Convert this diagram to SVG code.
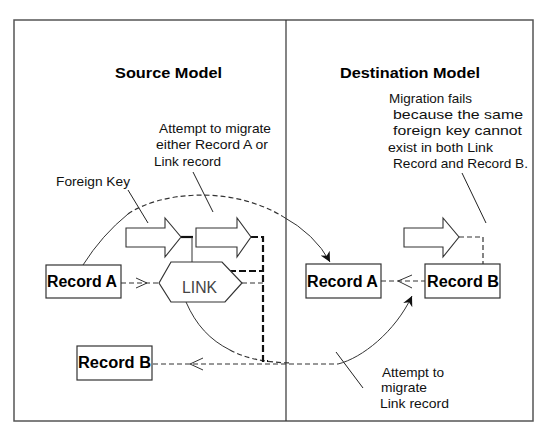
<svg xmlns="http://www.w3.org/2000/svg" width="549" height="439" viewBox="0 0 549 439">
<defs>
<style>
.bg{fill:#fff}
.frame{fill:none;stroke:#555;stroke-width:1.5}
.div{fill:none;stroke:#333;stroke-width:1.2}
.box{fill:#fff;stroke:#333;stroke-width:1.2}
.rec{font-family:"Liberation Sans",Arial,sans-serif;font-weight:bold;font-size:16px;fill:#000}
.title{font-family:"Liberation Sans",Arial,sans-serif;font-weight:bold;font-size:15.5px;fill:#000}
.lbl{font-family:"Liberation Sans",Arial,sans-serif;font-size:13px;fill:#111}
.link{font-family:"Liberation Sans",Arial,sans-serif;font-size:17px;fill:#444}
.fk{fill:#fff;stroke:#333;stroke-width:1.1}
.dash{fill:none;stroke:#333;stroke-width:1.2;stroke-dasharray:5 3}
.thick{fill:none;stroke:#111;stroke-width:2.2;stroke-dasharray:7 3}
.solid{fill:none;stroke:#333;stroke-width:1}
.leader{fill:none;stroke:#222;stroke-width:1}
.open{fill:none;stroke:#333;stroke-width:1}
</style>
<marker id="ah" markerUnits="userSpaceOnUse" markerWidth="10" markerHeight="10" refX="10" refY="5" orient="auto">
<path d="M0,0 L10,5 L0,10 L3,5 z" fill="#111"/>
</marker>
</defs>
<rect class="bg" x="0" y="0" width="549" height="439"/>
<rect class="frame" x="14" y="20" width="519" height="401"/>
<line class="div" x1="286" y1="20" x2="286" y2="421"/>

<g id="titles">
<text class="title" x="115" y="78" textLength="107" lengthAdjust="spacingAndGlyphs">Source Model</text>
<text class="title" x="340" y="78" textLength="140" lengthAdjust="spacingAndGlyphs">Destination Model</text>
</g>

<g id="labels">
<text class="lbl" x="159" y="133" textLength="112" lengthAdjust="spacingAndGlyphs">Attempt to migrate</text>
<text class="lbl" x="156" y="149" textLength="112" lengthAdjust="spacingAndGlyphs">either Record A or</text>
<text class="lbl" x="154" y="166" textLength="67" lengthAdjust="spacingAndGlyphs">Link record</text>
<text class="lbl" x="56" y="186" textLength="74" lengthAdjust="spacingAndGlyphs">Foreign Key</text>
<text class="lbl" x="389" y="103" textLength="83" lengthAdjust="spacingAndGlyphs">Migration fails</text>
<text class="lbl" x="393" y="119" textLength="130" lengthAdjust="spacingAndGlyphs">because the same</text>
<text class="lbl" x="393" y="135" textLength="129" lengthAdjust="spacingAndGlyphs">foreign key cannot</text>
<text class="lbl" x="388" y="152" textLength="105" lengthAdjust="spacingAndGlyphs">exist in both Link</text>
<text class="lbl" x="393" y="168" textLength="135" lengthAdjust="spacingAndGlyphs">Record and Record B.</text>
<text class="lbl" x="382" y="377" textLength="62" lengthAdjust="spacingAndGlyphs">Attempt to</text>
<text class="lbl" x="381" y="392" textLength="46" lengthAdjust="spacingAndGlyphs">migrate</text>
<text class="lbl" x="380" y="408" textLength="69" lengthAdjust="spacingAndGlyphs">Link record</text>
</g>

<g id="connectors">
<!-- leaders -->
<line class="leader" x1="128" y1="190" x2="148" y2="223"/>
<line class="leader" x1="193" y1="172" x2="213" y2="212"/>
<line class="leader" x1="462" y1="173" x2="486" y2="223"/>
<line class="leader" x1="336" y1="352" x2="363" y2="388"/>
<!-- big arc: source Record A to destination Record A -->
<path class="solid" d="M83,265 Q102,235 128,214"/>
<path class="dash" d="M128,214 C160,192 230,185 282,216"/>
<path class="solid" d="M282,216 Q315,234 330,262" marker-end="url(#ah)"/>
<!-- lower curve: LINK to destination Record B -->
<path class="solid" d="M186,302 C196,325 210,340 230,350"/>
<path class="dash" d="M230,350 C245,358 262,362 290,363"/>
<path class="solid" d="M338,364 C362,358 395,332 412,296" marker-end="url(#ah)"/>
<!-- Record B (source) dashed -->
<line class="dash" x1="153" y1="364" x2="338" y2="364"/>
<polyline class="open" points="203,358 190,364 203,370"/>
<!-- Record A -> LINK -->
<line class="dash" x1="121" y1="283" x2="159" y2="283"/>
<polyline class="open" points="136,278 147,283 136,288"/>
<!-- LINK right -->
<line class="dash" x1="242" y1="283" x2="263" y2="283"/>
<!-- FK arrow 1 to LINK -->
<line x1="181" y1="237" x2="193" y2="237" stroke="#111" stroke-width="2.2"/>
<line class="solid" x1="192" y1="237" x2="192" y2="262"/>
<!-- FK arrow 2 thick dashed -->
<polyline class="thick" points="251,237 263,237 263,361 268,361"/>
<line class="thick" x1="229" y1="271" x2="263" y2="271"/>
<!-- destination -->
<line class="dash" x1="381" y1="281" x2="425" y2="281"/>
<polyline class="open" points="412,275 398,281 412,288"/>
<polyline class="dash" points="459,237 483,237 483,264"/>
</g>

<g id="fk-arrow-1"><path class="fk" d="M126,228 H165 V218 L181,237 L165,257 V247 H126 Z"/></g>
<g id="fk-arrow-2"><path class="fk" d="M196,228 H237 V218 L251,237 L237,257 V247 H196 Z"/></g>
<g id="fk-arrow-dest"><path class="fk" d="M404,228 H443 V218 L459,237 L443,257 V247 H404 Z"/></g>

<g id="src-record-a">
<rect class="box" x="46" y="265" width="75" height="33"/>
<text class="rec" x="47" y="287" textLength="70" lengthAdjust="spacingAndGlyphs">Record A</text>
</g>
<g id="link">
<polygon class="box" points="159,283 171,262 222,262 242,283 225,302 171,302"/>
<text class="link" x="182" y="293" textLength="35" lengthAdjust="spacingAndGlyphs">LINK</text>
</g>
<g id="src-record-b">
<rect class="box" x="77" y="346" width="75" height="34"/>
<text class="rec" x="78" y="368" textLength="73" lengthAdjust="spacingAndGlyphs">Record B</text>
</g>
<g id="dst-record-a">
<rect class="box" x="306" y="264" width="75" height="34"/>
<text class="rec" x="307" y="287" textLength="71" lengthAdjust="spacingAndGlyphs">Record A</text>
</g>
<g id="dst-record-b">
<rect class="box" x="425" y="264" width="75" height="34"/>
<text class="rec" x="427" y="287" textLength="72" lengthAdjust="spacingAndGlyphs">Record B</text>
</g>
</svg>
